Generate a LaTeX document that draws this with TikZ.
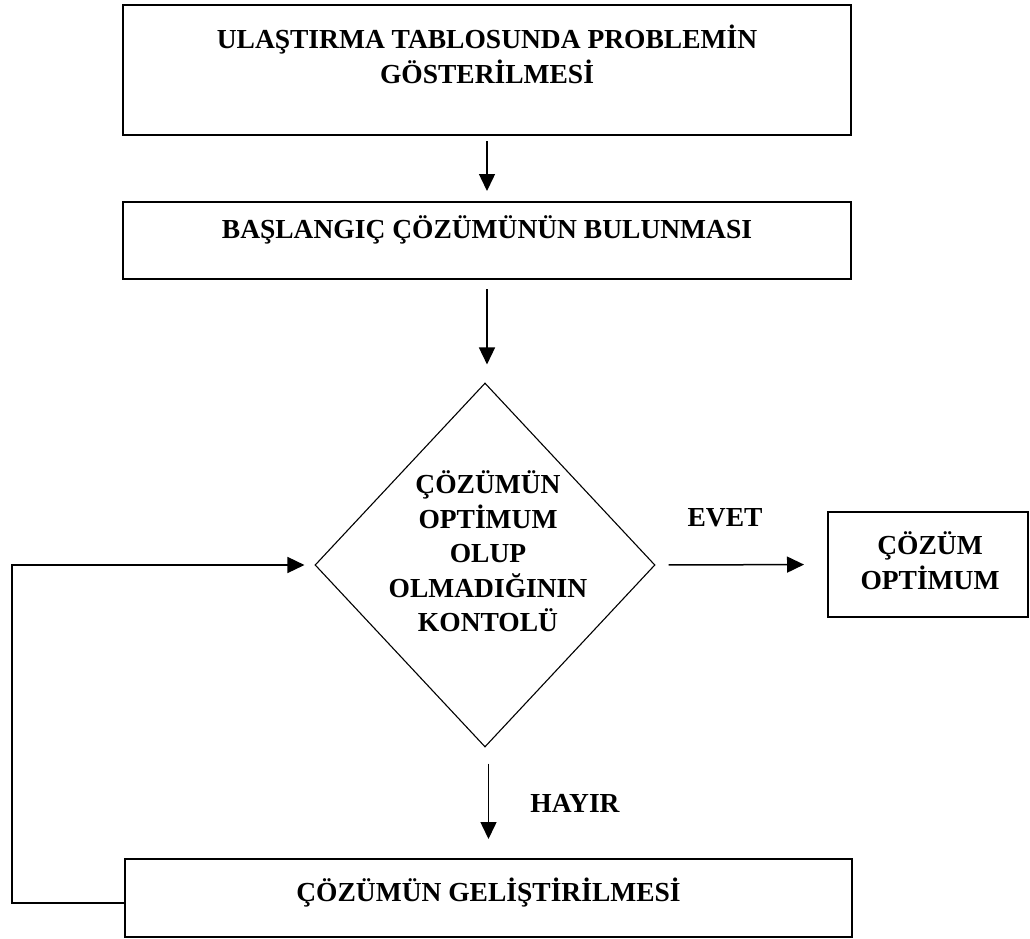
\documentclass[tikz,border=0pt]{standalone}
\usepackage{fontspec}
\setmainfont{Liberation Serif}
\usetikzlibrary{shapes.geometric,arrows.meta}

\begin{document}
\begin{tikzpicture}[x=1pt,y=-1pt,
  box/.style={draw, line width=2pt, inner sep=0pt},
  decision/.style={draw, diamond, line width=1.1pt, inner sep=0pt},
  lbl/.style={font=\fontsize{27.5}{34.5}\selectfont\bfseries, align=center, inner sep=0pt},
  flow/.style={line width=1.5pt, -{Triangle[length=17pt,width=16pt]}},
]
\useasboundingbox (0,0) rectangle (1030,939);

% frames
\node[box, minimum width=728pt, minimum height=130pt] (b1) at (487,70) {};
\node[box, minimum width=728pt, minimum height=77pt] (b2) at (487,240.5) {};
\node[decision, minimum width=340pt, minimum height=364pt] (dia) at (485,565) {};
\node[box, minimum width=200pt, minimum height=105pt] (b3) at (928,564.5) {};
\node[box, minimum width=727pt, minimum height=78pt] (b4) at (488.5,898) {};

% texts
\node[lbl] (t1) at (487,54.5) {ULAŞTIRMA TABLOSUNDA PROBLEMİN\\GÖSTERİLMESİ};
\node[lbl] (t2) at (487,230) {BAŞLANGIÇ ÇÖZÜMÜNÜN BULUNMASI};
\node[lbl] (tdia) at (488,551.5) {ÇÖZÜMÜN\\OPTİMUM\\OLUP\\OLMADIĞININ\\KONTOLÜ};
\node[lbl] (t3) at (930,560.5) {ÇÖZÜM\\OPTİMUM};
\node[lbl] (t4) at (488.5,893) {ÇÖZÜMÜN GELİŞTİRİLMESİ};
\node[lbl] (yes) at (725,518) {EVET};
\node[lbl] (no) at (575,803) {HAYIR};

% connectors
\draw[flow, shorten <=5pt, shorten >=10pt] (b1.south) -- (b2.north);
\draw[flow, shorten <=9pt, shorten >=18pt] (b2.south) -- (b2.south |- dia.north);
\draw[flow, shorten <=13pt, shorten >=23pt] (dia.east) -- (b3.west);
\draw[flow, shorten <=16pt, shorten >=19pt] (b4.north |- dia.south) -- (b4.north);
\coordinate (loop) at (12,565);
\draw[flow, shorten >=10pt] ([yshift=-5pt]b4.west) -| (loop) -- (dia.west);
\end{tikzpicture}
\end{document}
